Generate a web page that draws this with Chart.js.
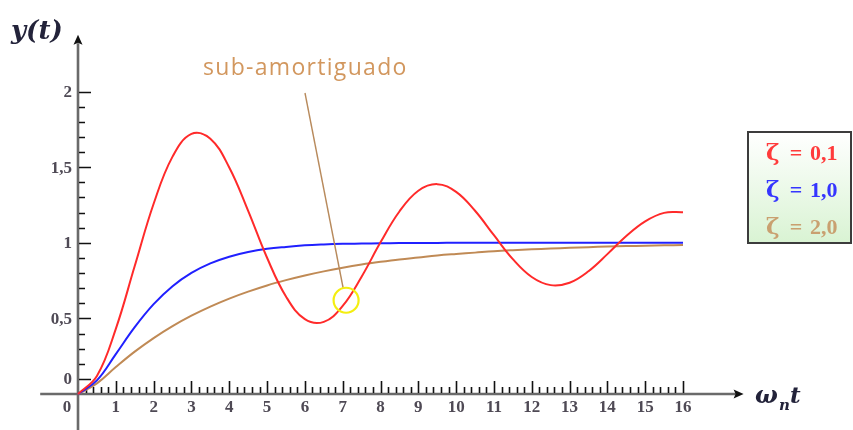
<!DOCTYPE html>
<html><head><meta charset="utf-8">
<script src="https://cdn.jsdelivr.net/npm/chart.js@4"></script>
<style>html,body{margin:0;padding:0;background:#fff;overflow:hidden}</style>
</head><body>
<canvas id="c" width="853" height="430"></canvas>
<script>
// ---- data ----
const tValues = [0,0.5,1,1.5,2,2.5,3,3.5,4,4.5,5,5.5,6,6.5,7,7.5,8,8.5,9,9.5,10,10.5,11,11.5,12,12.5,13,13.5,14,14.5,15,15.5,16];
const yZeta01 = [0,0.119,0.431,0.846,1.258,1.570,1.720,1.688,1.498,1.211,0.901,0.645,0.495,0.477,0.583,0.776,1.003,1.207,1.344,1.388,1.337,1.212,1.050,0.892,0.774,0.720,0.736,0.812,0.925,1.045,1.142,1.198,1.202];
const yZeta10 = [0,0.090,0.264,0.442,0.594,0.713,0.801,0.864,0.908,0.939,0.960,0.973,0.983,0.989,0.993,0.995,0.997,0.998,0.999,0.999,1.000,1.000,1.000,1.000,1.000,1.000,1.000,1.000,1.000,1.000,1.000,1.000,1.000];
const yZeta20 = [0,0.070,0.178,0.280,0.370,0.449,0.518,0.578,0.631,0.677,0.718,0.753,0.784,0.811,0.835,0.856,0.874,0.890,0.903,0.916,0.926,0.935,0.944,0.951,0.957,0.962,0.967,0.971,0.975,0.978,0.981,0.983,0.985];
const seriesNames = ['ζ', 'ζ', 'ζ'];
const seriesValues = ['0,1', '1,0', '2,0'];
const xTickLabels = ['0','1','2','3','4','5','6','7','8','9','10','11','12','13','14','15','16'];
const yTickValues = [0.1, 0.5, 1, 1.5, 2];
const yTickLabels = ['0', '0,5', '1', '1,5', '2'];
const annotationText = 'sub-amortiguado';

const colors = ['#ff2a2a', '#2020ff', '#c08a55'];
const legendColors = ['#ff3b3b', '#3535ff', '#c9a070'];

function pts(arr){ return tValues.map((t,i)=>({x:t, y:arr[i]})); }

const axesPlugin = {
  id: 'axesPlugin',
  beforeDatasetsDraw(chart){
    const {ctx, scales:{x, y}} = chart;
    const x0 = x.getPixelForValue(0), y0 = y.getPixelForValue(0);
    ctx.save();
    // axis lines
    ctx.strokeStyle = '#6a6a6a'; ctx.lineWidth = 2.6;
    ctx.beginPath();
    ctx.moveTo(x.getPixelForValue(-1.0), y0); ctx.lineTo(x.getPixelForValue(17.4), y0);
    ctx.moveTo(x0, y.getPixelForValue(-0.25)); ctx.lineTo(x0, y.getPixelForValue(2.32));
    ctx.stroke();
    // arrow heads
    ctx.fillStyle = '#111';
    const ax = x.getPixelForValue(17.55);
    ctx.beginPath(); ctx.moveTo(ax + 2, y0); ctx.lineTo(ax - 8, y0 - 4.5); ctx.lineTo(ax - 6, y0); ctx.lineTo(ax - 8, y0 + 4.5); ctx.closePath(); ctx.fill();
    const ay = y.getPixelForValue(2.37);
    ctx.beginPath(); ctx.moveTo(x0, ay - 1); ctx.lineTo(x0 - 4.5, ay + 9); ctx.lineTo(x0, ay + 7); ctx.lineTo(x0 + 4.5, ay + 9); ctx.closePath(); ctx.fill();
    // x ticks
    ctx.strokeStyle = '#111'; ctx.lineWidth = 1.6;
    ctx.beginPath();
    for (let i = 1; i <= 80; i++) {
      const px = Math.round(x.getPixelForValue(i * 0.2)) + 0.5;
      const major = i % 5 === 0;
      ctx.moveTo(px, y0 - 1); ctx.lineTo(px, y0 - (major ? 13 : 7));
    }
    // y ticks
    for (let i = 1; i <= 20; i++) {
      const v = i * 0.1;
      const py = Math.round(y.getPixelForValue(v)) + 0.5;
      const major = (i === 1) || (i % 5 === 0);
      ctx.moveTo(x0 + 1, py); ctx.lineTo(x0 + (major ? 13 : 7), py);
    }
    ctx.stroke();
    // tick labels
    ctx.fillStyle = '#4f4a55';
    ctx.font = 'bold 17px "Liberation Serif"';
    ctx.textAlign = 'center'; ctx.textBaseline = 'middle';
    xTickLabels.forEach((lab, i) => {
      let px = x.getPixelForValue(i);
      if (i === 0) px -= 11;
      ctx.fillText(lab, px, y0 + 14);
    });
    ctx.textAlign = 'right';
    yTickValues.forEach((v, i) => {
      ctx.fillText(yTickLabels[i], x0 - 6, y.getPixelForValue(v) + 1);
    });
    // axis titles
    ctx.fillStyle = '#23233a';
    ctx.textAlign = 'left'; ctx.textBaseline = 'alphabetic';
    ctx.font = 'bold italic 26px "DejaVu Serif"';
    ctx.fillText('y(t)', 11, 39);
    ctx.font = 'bold italic 24px "DejaVu Serif"';
    ctx.fillText('ω', 755, 403);
    ctx.font = 'bold italic 15px "DejaVu Serif"';
    ctx.fillText('n', 779, 410);
    ctx.font = 'bold italic 23px "DejaVu Serif"';
    ctx.fillText('t', 790, 403);
    ctx.restore();
  },
  afterDraw(chart){
    const {ctx, scales:{x, y}} = chart;
    ctx.save();
    // annotation
    ctx.font = '23px "Open Sans"';
    ctx.letterSpacing = '1.3px';
    ctx.fillStyle = '#d2975e';
    ctx.textBaseline = 'alphabetic'; ctx.textAlign = 'left';
    ctx.fillText(annotationText, 203, 75);
    ctx.letterSpacing = '0px';
    const cx = x.getPixelForValue(7.09), cy = y.getPixelForValue(0.62);
    ctx.strokeStyle = '#b88a5c'; ctx.lineWidth = 1.4;
    ctx.beginPath(); ctx.moveTo(305, 93); ctx.lineTo(cx - 3, cy - 12.5); ctx.stroke();
    ctx.strokeStyle = '#f4ee10'; ctx.lineWidth = 2.2;
    ctx.beginPath(); ctx.arc(cx, cy, 12.5, 0, Math.PI * 2); ctx.stroke();
    // legend box
    const bx = 748, by = 132, bw = 103, bh = 111;
    const g = ctx.createLinearGradient(0, by, 0, by + bh);
    g.addColorStop(0, '#ffffff'); g.addColorStop(1, '#d9f3d3');
    ctx.fillStyle = g; ctx.fillRect(bx, by, bw, bh);
    ctx.strokeStyle = '#3c3c3c'; ctx.lineWidth = 2;
    ctx.strokeRect(bx, by, bw, bh);
    const baselines = [160, 197, 234];
    chart.data.datasets.forEach((ds, i) => {
      ctx.fillStyle = legendColors[i];
      ctx.font = 'bold 23px "DejaVu Serif"';
      ctx.textAlign = 'left';
      ctx.fillText(seriesNames[i], 766, baselines[i]);
      ctx.font = 'bold 22px "Liberation Serif"';
      ctx.textAlign = 'center';
      ctx.fillText('=', 796, baselines[i]);
      ctx.textAlign = 'left';
      ctx.fillText(seriesValues[i], 810, baselines[i]);
    });
    ctx.restore();
  }
};

new Chart(document.getElementById('c'), {
  type: 'line',
  data: {
    datasets: [
      { label: 'ζ = 0,1', data: pts(yZeta01), borderColor: colors[0] },
      { label: 'ζ = 1,0', data: pts(yZeta10), borderColor: colors[1] },
      { label: 'ζ = 2,0', data: pts(yZeta20), borderColor: colors[2] }
    ]
  },
  options: {
    responsive: false,
    animation: false,
    devicePixelRatio: 1,
    layout: { padding: 0 },
    elements: {
      line: { borderWidth: 2, tension: 0.4, fill: false },
      point: { radius: 0 }
    },
    scales: {
      x: { type: 'linear', display: false, min: -2.063, max: 20.496 },
      y: { type: 'linear', display: false, min: -0.2381, max: 2.6058 }
    },
    plugins: { legend: { display: false }, tooltip: { enabled: false } }
  },
  plugins: [axesPlugin]
});
</script>
</body></html>
